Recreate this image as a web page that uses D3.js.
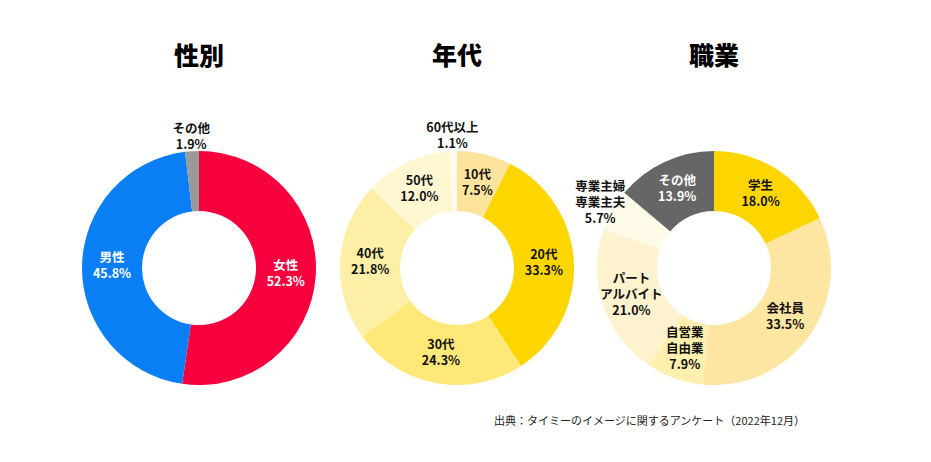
<!DOCTYPE html>
<html><head><meta charset="utf-8">
<script src="https://cdn.jsdelivr.net/npm/d3@7/dist/d3.min.js"></script>
<style>
body{margin:0;background:#fff;}
text{font-family:"Noto Sans CJK JP","Noto Sans",sans-serif;}
</style></head><body>
<svg id="c" width="931" height="462"></svg>
<script>
// ---- data ----
const titles = ["性別", "年代", "職業"];

const genderLabels = [["女性"], ["男性"], ["その他"]];
const genderValues = [52.3, 45.8, 1.9];
const genderColors = ["#f7003e", "#0a7ff5", "#9a9a9a"];
const genderTextColors = ["#fff", "#fff", "#111"];
const genderOutside = [false, false, true];

const ageLabels = [["10代"], ["20代"], ["30代"], ["40代"], ["50代"], ["60代以上"]];
const ageValues = [7.5, 33.3, 24.3, 21.8, 12.0, 1.1];
const ageColors = ["#fde49c", "#fdd600", "#fde878", "#feefa6", "#fff6d2", "#fffbea"];
const ageTextColors = ["#111", "#111", "#111", "#111", "#111", "#111"];
const ageOutside = [false, false, false, false, false, true];

const jobLabels = [["学生"], ["会社員"], ["自営業", "自由業"], ["パート", "アルバイト"], ["専業主婦", "専業主夫"], ["その他"]];
const jobValues = [18.0, 33.5, 7.9, 21.0, 5.7, 13.9];
const jobColors = ["#fdd600", "#fde5a2", "#fdf0ae", "#fff2cf", "#fffbe8", "#666666"];
const jobTextColors = ["#111", "#111", "#111", "#111", "#111", "#fff"];
const jobOutside = [false, false, false, false, true, false];

const source = "出典：タイミーのイメージに関するアンケート（2022年12月）";

// ---- drawing ----
const svg = d3.select("#c");
const charts = [
  {labels: genderLabels, values: genderValues, colors: genderColors, tc: genderTextColors, out: genderOutside},
  {labels: ageLabels, values: ageValues, colors: ageColors, tc: ageTextColors, out: ageOutside},
  {labels: jobLabels, values: jobValues, colors: jobColors, tc: jobTextColors, out: jobOutside}
];
const centersX = [199, 457, 714];
const cy = 268;
const R = 117, r0 = 57;
const arc = d3.arc().innerRadius(r0).outerRadius(R);
const outerArc = d3.arc().innerRadius(131).outerRadius(131);
const pie = d3.pie().sort(null).value(d => d);

charts.forEach((c, ci) => {
  svg.append("text").attr("x", centersX[ci]).attr("y", 58)
    .attr("text-anchor", "middle").attr("dominant-baseline", "middle")
    .attr("font-size", 25).attr("font-weight", 900).attr("fill", "#000").text(titles[ci]);
  const g = svg.append("g").attr("transform", `translate(${centersX[ci]},${cy})`);
  const arcs = pie(c.values);
  g.selectAll("path").data(arcs).join("path").attr("d", arc).attr("fill", (d, i) => c.colors[i]);
  arcs.forEach((d, i) => {
    const p = c.out[i] ? outerArc.centroid(d) : arc.centroid(d);
    const lines = c.labels[i].concat([d3.format(".1f")(c.values[i]) + "%"]);
    const lh = 16;
    const t = g.append("text").attr("text-anchor", "middle").attr("font-size", 12.5)
      .attr("font-weight", 700).attr("fill", c.tc[i]);
    lines.forEach((ln, k) => {
      t.append("tspan").attr("x", p[0])
        .attr("y", p[1] + (k - (lines.length - 1) / 2) * lh)
        .attr("dominant-baseline", "middle").text(ln);
    });
  });
});

svg.append("text").attr("x", 805).attr("y", 422).attr("text-anchor", "end")
  .attr("dominant-baseline", "middle").attr("font-size", 11).attr("fill", "#222").text(source);
</script>
</body></html>
